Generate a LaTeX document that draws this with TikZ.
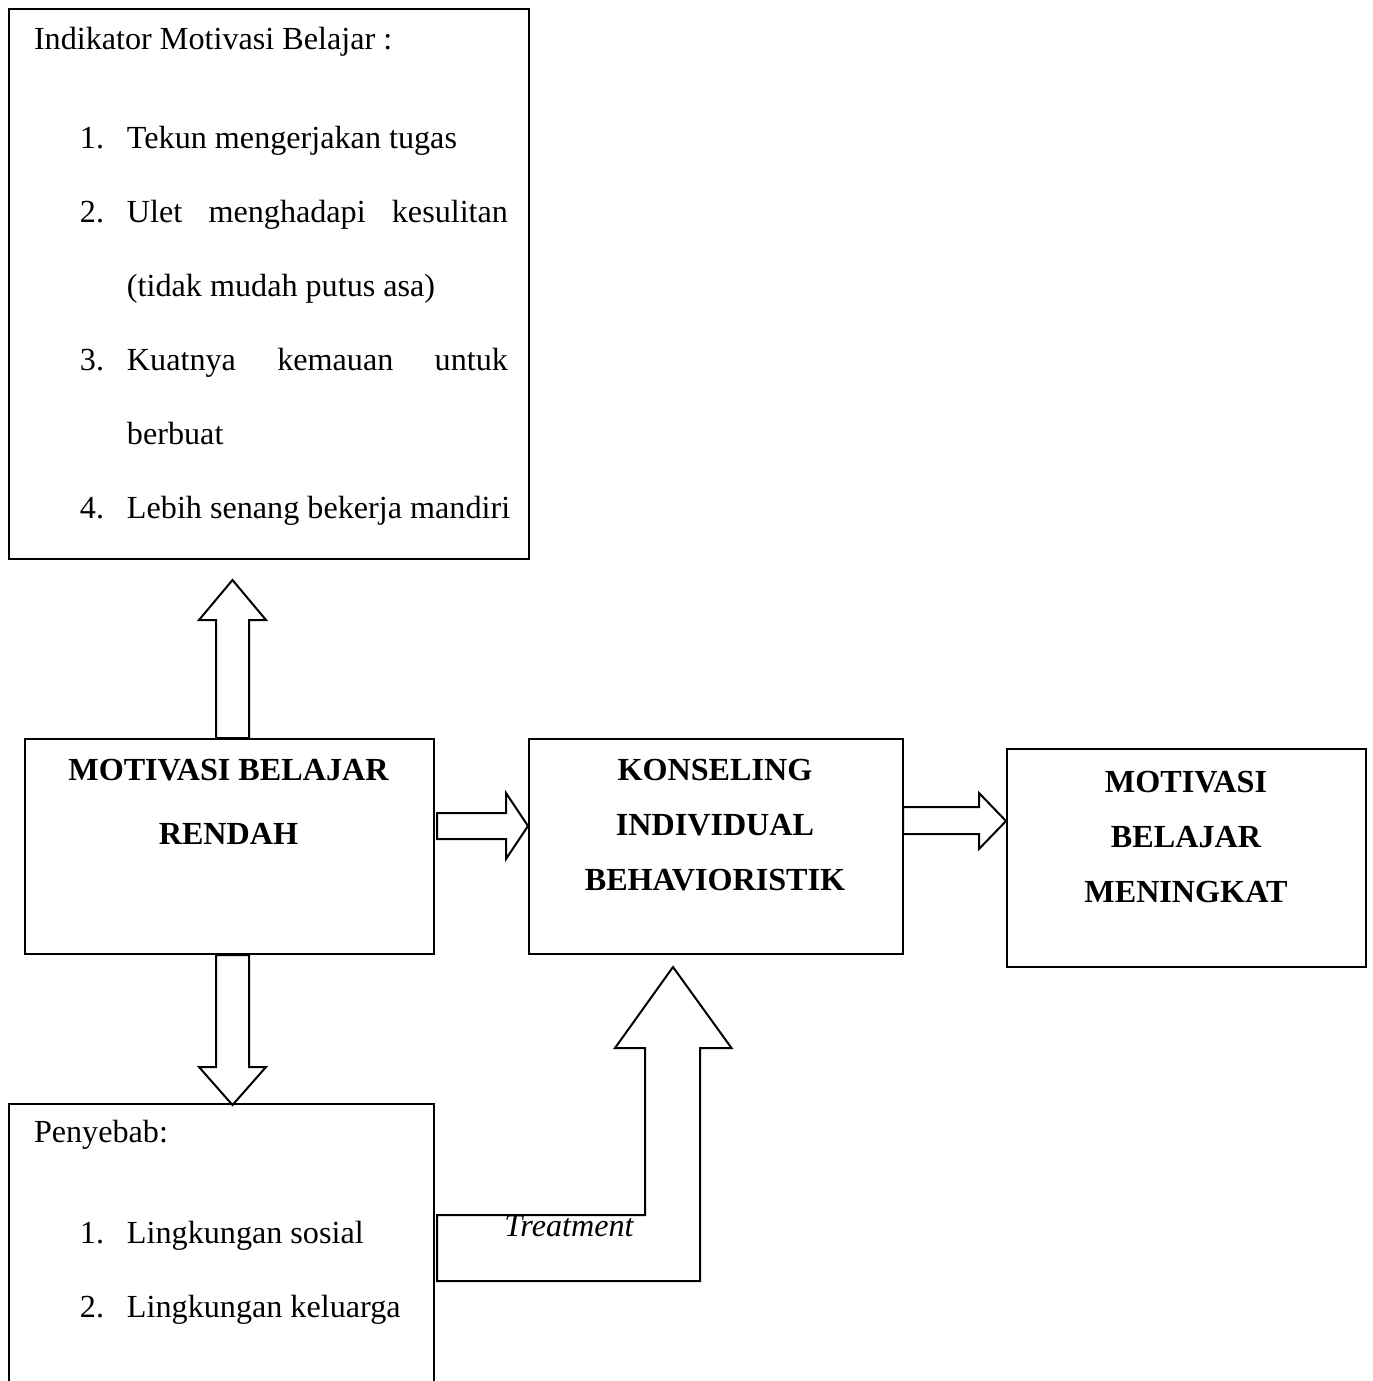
\documentclass[tikz,border=0pt]{standalone}
\usepackage{fontspec}
\setmainfont{Liberation Serif}

\newlength{\du}
\setlength{\du}{0.3731pt}

\tikzset{
  kotak/.style={draw, rectangle, inner sep=0pt, anchor=north west},
  teks/.style={anchor=base west, inner sep=0pt, font=\fontsize{12pt}{14pt}\selectfont},
  judul/.style={anchor=base, inner sep=0pt, font=\fontsize{12pt}{14pt}\selectfont\bfseries},
  panah/.style={draw, fill=white, line join=miter},
}

\begin{document}
\begin{tikzpicture}
\pgftransformxscale{1.000000}
\pgftransformyscale{-1.000000}
\pgfsetlinewidth{2\du}
\useasboundingbox (0\du,0\du) rectangle (1373\du,1381\du);

% kotak-kotak
\node[kotak, minimum width=520\du, minimum height=550\du] (indikator) at (8\du,8\du) {};
\node[kotak, minimum width=409\du, minimum height=215\du] (rendah) at (24\du,738\du) {};
\node[kotak, minimum width=374\du, minimum height=215\du] (konseling) at (528\du,738\du) {};
\node[kotak, minimum width=359\du, minimum height=218\du] (meningkat) at (1006\du,748\du) {};
\node[kotak, minimum width=425\du, minimum height=330\du] (penyebab) at (8\du,1103\du) {};

% indikator
\node[teks] (judulindikator) at (33\du,49\du) {Indikator Motivasi Belajar :};
\node[teks] (no1) at (79\du,148\du) {1.};
\node[teks] (isi1) at (126\du,148\du) {Tekun mengerjakan tugas};
\node[teks] (no2) at (79\du,222\du) {2.};
\node[teks] (isi2) at (126\du,222\du) {\makebox[381\du][s]{Ulet menghadapi kesulitan}};
\node[teks] (isi2b) at (126\du,296\du) {(tidak mudah putus asa)};
\node[teks] (no3) at (79\du,370\du) {3.};
\node[teks] (isi3) at (126\du,370\du) {\makebox[381\du][s]{Kuatnya kemauan untuk}};
\node[teks] (isi3b) at (126\du,444\du) {berbuat};
\node[teks] (no4) at (79\du,518\du) {4.};
\node[teks] (isi4) at (126\du,518\du) {Lebih senang bekerja mandiri};

% judul kotak tengah
\node[judul] (rendah1) at (228.5\du,780\du) {MOTIVASI BELAJAR};
\node[judul] (rendah2) at (228.5\du,844\du) {RENDAH};
\node[judul] (konseling1) at (715\du,780\du) {KONSELING};
\node[judul] (konseling2) at (715\du,835\du) {INDIVIDUAL};
\node[judul] (konseling3) at (715\du,890\du) {BEHAVIORISTIK};
\node[judul] (meningkat1) at (1186\du,792\du) {MOTIVASI};
\node[judul] (meningkat2) at (1186\du,847\du) {BELAJAR};
\node[judul] (meningkat3) at (1186\du,902\du) {MENINGKAT};

% penyebab
\node[teks] (judulpenyebab) at (33\du,1142\du) {Penyebab:};
\node[teks] (no5) at (79\du,1243\du) {1.};
\node[teks] (isi5) at (126\du,1243\du) {Lingkungan sosial};
\node[teks] (no6) at (79\du,1317\du) {2.};
\node[teks] (isi6) at (126\du,1317\du) {Lingkungan keluarga};

% panah blok
\draw[panah] ([xshift=-13.5\du]rendah.north) -- ++(0,-118\du) -- ++(-17\du,0) -- ++(33.5\du,-40\du) -- ++(33.5\du,40\du) -- ++(-17\du,0) -- ++(0,118\du) -- cycle;
\draw[panah] ([xshift=-13.5\du]rendah.south) -- ++(0,112\du) -- ++(-17\du,0) -- ++(33.5\du,38\du) -- ++(33.5\du,-38\du) -- ++(-17\du,0) -- ++(0,-112\du) -- cycle;
\draw[panah] (konseling.west) ++(0,-20.5\du) -- ++(-22\du,-33\du) -- ++(0,20\du) -- ++(-69\du,0) -- ++(0,26\du) -- ++(69\du,0) -- ++(0,20\du) -- cycle;
\draw[panah] (meningkat.west) ++(0,-37\du) -- ++(-27\du,-28\du) -- ++(0,14\du) -- ++(-76\du,0) -- ++(0,27\du) -- ++(76\du,0) -- ++(0,15\du) -- cycle;
\draw[panah] (konseling.south) ++(-43\du,12\du) -- ++(58.5\du,81\du) -- ++(-31.5\du,0) -- ++(0,233\du) -- ++(-263\du,0) -- ++(0,-66\du) -- ++(208\du,0) -- ++(0,-167\du) -- ++(-30\du,0) -- cycle;
\node[teks, anchor=base, font=\fontsize{12pt}{14pt}\selectfont\itshape] (treatment) at (569\du,1236\du) {Treatment};
\end{tikzpicture}
\end{document}
